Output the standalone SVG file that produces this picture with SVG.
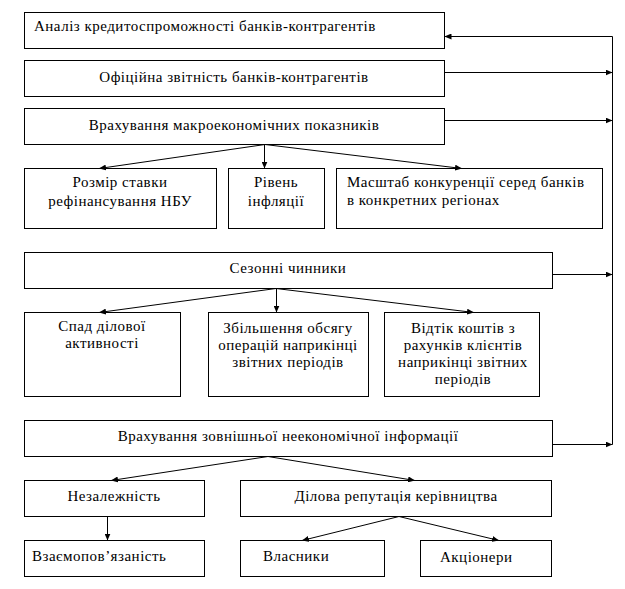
<svg xmlns="http://www.w3.org/2000/svg" width="625" height="589" viewBox="0 0 625 589" font-family="Liberation Serif, serif" font-size="15">
<style>
  rect { fill: #fff; stroke: #000; stroke-width: 1; }
  text { fill: #000; letter-spacing: 0.5px; }
  .c { text-anchor: middle; }
  .ln { stroke: #000; stroke-width: 1; fill: none; marker-end: url(#ah); }
  .pl { stroke: #000; stroke-width: 1; fill: none; }
</style>
<defs>
  <marker id="ah" markerWidth="7" markerHeight="6" refX="7" refY="3" orient="auto" markerUnits="userSpaceOnUse">
    <path d="M0,0 L7,3 L0,6 Z" fill="#000"/>
  </marker>
</defs>
<rect x="0" y="0" width="625" height="589" style="stroke:none"/>
<g id="n1"><rect x="24.5" y="12.5" width="420" height="36"/><text x="34" y="31">Аналіз кредитоспроможності банків-контрагентів</text></g>
<g id="n2"><rect x="24.5" y="60.5" width="420" height="36"/><text class="c" x="234" y="82">Офіційна звітність банків-контрагентів</text></g>
<g id="n3"><rect x="24.5" y="108.5" width="420" height="36"/><text class="c" x="234" y="130">Врахування макроекономічних показників</text></g>
<g id="n4"><rect x="24.5" y="168.5" width="192" height="60"/><text class="c" x="120" y="187">Розмір ставки</text><text class="c" x="120" y="206">рефінансування НБУ</text></g>
<g id="n5"><rect x="228.5" y="168.5" width="96" height="60"/><text class="c" x="276" y="187">Рівень</text><text class="c" x="276" y="206">інфляції</text></g>
<g id="n6"><rect x="336.5" y="168.5" width="266" height="60"/><text x="347" y="187">Масштаб конкуренції серед банків</text><text x="347" y="205">в конкретних регіонах</text></g>
<g id="n7"><rect x="24.5" y="252.5" width="528" height="36"/><text class="c" x="288" y="273">Сезонні чинники</text></g>
<g id="n8"><rect x="24.5" y="312.5" width="156" height="84"/><text class="c" x="102" y="331">Спад ділової</text><text class="c" x="102" y="348">активності</text></g>
<g id="n9"><rect x="208.5" y="312.5" width="160" height="84"/><text class="c" x="288" y="333">Збільшення обсягу</text><text class="c" x="288" y="350">операцій наприкінці</text><text class="c" x="288" y="367">звітних періодів</text></g>
<g id="n10"><rect x="384.5" y="312.5" width="155" height="84"/><text class="c" x="463" y="333">Відтік коштів з</text><text class="c" x="463" y="350">рахунків клієнтів</text><text class="c" x="463" y="367">наприкінці звітних</text><text class="c" x="463" y="384">періодів</text></g>
<g id="n11"><rect x="24.5" y="420.5" width="528" height="36"/><text class="c" x="288" y="441">Врахування зовнішньої неекономічної інформації</text></g>
<g id="n12"><rect x="24.5" y="480.5" width="180" height="36"/><text class="c" x="114" y="501">Незалежність</text></g>
<g id="n13"><rect x="240.5" y="480.5" width="311" height="36"/><text class="c" x="396" y="501">Ділова репутація керівництва</text></g>
<g id="n14"><rect x="24.5" y="540.5" width="180" height="36"/><text x="32" y="561">Взаємопов’язаність</text></g>
<g id="n15"><rect x="240.5" y="540.5" width="144" height="36"/><text x="263" y="561">Власники</text></g>
<g id="n16"><rect x="420.5" y="540.5" width="131" height="36"/><text x="440" y="562">Акціонери</text></g>
<g id="connectors">
  <path class="pl" d="M612.5,36.5 V444.5"/>
  <path class="ln" d="M612.5,36.5 H444.5"/>
  <path class="ln" d="M444.5,72.5 H612.5"/>
  <path class="ln" d="M444.5,120.5 H612.5"/>
  <path class="ln" d="M552.5,274.5 H612.5"/>
  <path class="ln" d="M552.5,444.5 H612.5"/>
  <path class="ln" d="M265,144.5 L99,168.5"/>
  <path class="ln" d="M264.5,144.5 V168.5"/>
  <path class="ln" d="M265,144.5 L462,168.5"/>
  <path class="ln" d="M276,288.5 L99,312.5"/>
  <path class="ln" d="M276.5,288.5 V312.5"/>
  <path class="ln" d="M276,288.5 L474,312.5"/>
  <path class="ln" d="M268,456.5 L111,480.5"/>
  <path class="ln" d="M268,456.5 L415,480.5"/>
  <path class="ln" d="M107.5,516.5 V540.5"/>
  <path class="ln" d="M399,516.5 L302,540.5"/>
  <path class="ln" d="M399,516.5 L499,540.5"/>
</g>
</svg>
